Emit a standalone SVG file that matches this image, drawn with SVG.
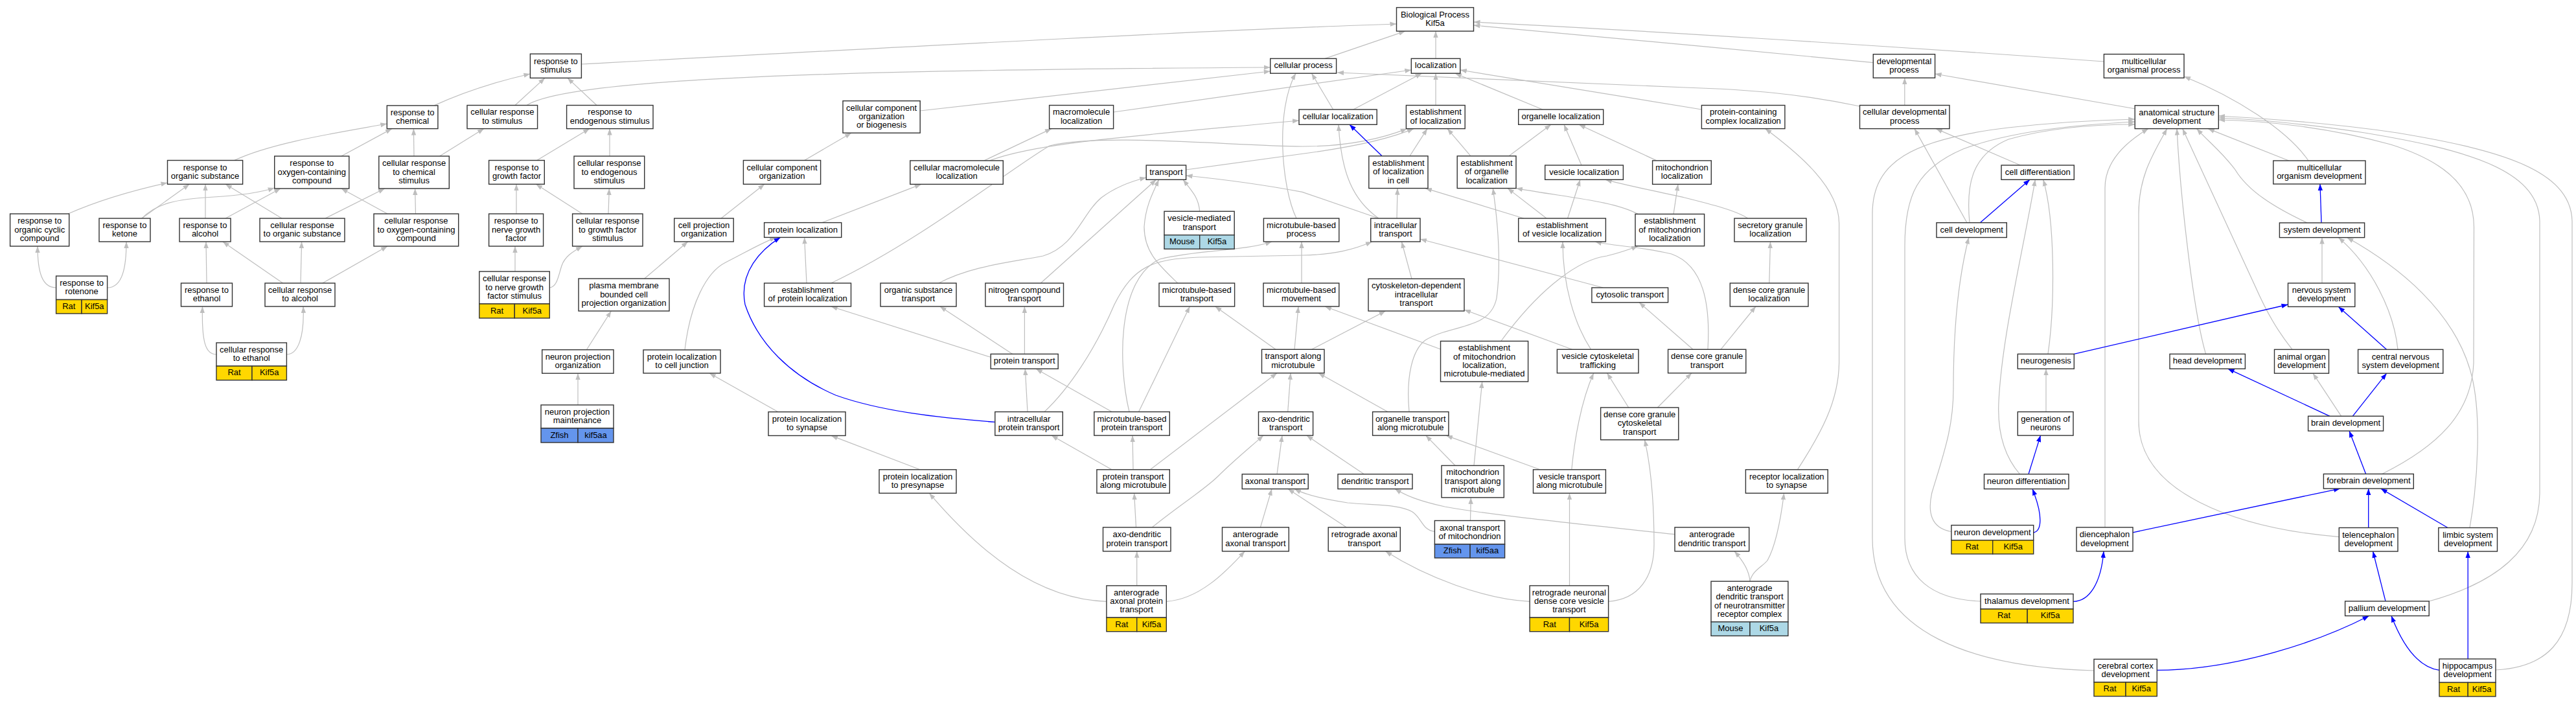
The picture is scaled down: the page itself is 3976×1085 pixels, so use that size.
<svg xmlns="http://www.w3.org/2000/svg" width="3976" height="1085" viewBox="0 0 3976 1085">
<style>
.n{fill:#fff;stroke:#333;stroke-width:1.4}
.rat{fill:#FFD700;stroke:#333;stroke-width:1.4}
.mo{fill:#ADD8E6;stroke:#333;stroke-width:1.4}
.zf{fill:#6495ED;stroke:#333;stroke-width:1.4}
.t{font-family:"Liberation Sans",Arial,sans-serif;font-size:13px;text-anchor:middle;fill:#000}
.g{fill:none;stroke:#BEBEBE;stroke-width:1.2;marker-end:url(#ag)}
.b{fill:none;stroke:#0000FF;stroke-width:1.3;marker-end:url(#ab)}
</style>
<defs>
<marker id="ag" markerUnits="userSpaceOnUse" markerWidth="11" markerHeight="9" refX="10" refY="4" orient="auto"><path d="M0,0.3 L10,4 L0,7.7 z" fill="#BEBEBE"/></marker>
<marker id="ab" markerUnits="userSpaceOnUse" markerWidth="11" markerHeight="9" refX="10" refY="4" orient="auto"><path d="M0,0.3 L10,4 L0,7.7 z" fill="#0000FF"/></marker>
</defs>
<rect x="0" y="0" width="3976" height="1085" fill="#fff"/>
<g id="edges">
<path class="g" d="M897,99 C1400,72 1900,45 2155.5,37"/>
<path class="g" d="M2045,90.4 L2169,48.1"/>
<path class="g" d="M2216,90.4 L2216,48.1"/>
<path class="g" d="M2891.3,96.6 C2700,78 2400,50 2274.5,39"/>
<path class="g" d="M3247.4,95 C2900,70 2500,45 2274.5,34"/>
<path class="g" d="M670,162.9 C720,140 770,125 818.4,114"/>
<path class="g" d="M795,162.5 L841,120.4"/>
<path class="g" d="M921,162.5 L876,120.4"/>
<path class="g" d="M813,162.5 C880,120 1300,108 1960.7,104"/>
<path class="g" d="M1420.2,171 L1960.7,110"/>
<path class="g" d="M2057.7,169 L2024.5,113.2"/>
<path class="g" d="M2001,337 C1978,290 1968,170 2000,113.2"/>
<path class="g" d="M2870.5,164 C2780,145 2700,138 2600,135 L2064,112"/>
<path class="g" d="M1718.6,173 L2178.3,108"/>
<path class="g" d="M2088.8,169 L2194.5,113.2"/>
<path class="g" d="M2216,162.5 L2216,113.2"/>
<path class="g" d="M2381,169 L2246,113.2"/>
<path class="g" d="M2626.4,169 L2253.8,108"/>
<path class="g" d="M2939.8,162.5 L2939.8,120.2"/>
<path class="g" d="M3296,168 L2986.6,114"/>
<path class="g" d="M3563,248 C3530,200 3450,150 3371,118"/>
<path class="g" d="M3532.8,248 L3408,198.6"/>
<path class="g" d="M3561,343.9 C3510,320 3470,295 3450,262 C3430,235 3410,220 3390.6,198.6"/>
<path class="g" d="M3584,437 L3584,366.6"/>
<path class="g" d="M3701,539.4 C3695,480 3660,410 3609.4,366.6"/>
<path class="g" d="M3812,814.5 C3825,740 3830,640 3815,580 C3790,480 3700,410 3622.5,366.6"/>
<path class="g" d="M3404.6,546.4 C3385,480 3365,300 3360,198.6"/>
<path class="g" d="M3538,539.4 C3515,510 3500,485 3480,440 L3368.7,198.6"/>
<path class="g" d="M3613.7,642.3 L3570,576.2"/>
<path class="g" d="M3676.8,731.5 C3760,690 3815,640 3818,560 L3818.5,350 C3818,280 3760,245 3690,223 C3600,198 3500,186 3424.3,185"/>
<path class="g" d="M3610.3,828.7 C3450,815 3301,760 3301,650 L3301,330 C3301,270 3325,235 3344.7,198.6"/>
<path class="g" d="M3749.2,928 C3850,900 3920,850 3920,760 L3920,341 C3918,260 3800,230 3650,205 C3550,190 3480,184 3424.3,182"/>
<path class="g" d="M3852,1034 C3930,1030 3970,990 3970,900 L3970,341 C3968,260 3850,230 3700,205 C3600,190 3480,182 3424.3,179"/>
<path class="g" d="M3232,1035 C3050,1030 2890,980 2890,830 L2890,330 C2890,250 2950,215 3100,197 C3180,188 3250,185 3295.2,184"/>
<path class="g" d="M3057,928 C2980,925 2940,890 2940,830 L2940,380 C2940,300 2960,260 3030,230 C3110,200 3220,192 3295.2,188"/>
<path class="g" d="M3040,343.7 C3035,290 3040,240 3100,215 C3170,195 3250,192 3295.2,192"/>
<path class="g" d="M3249,813.9 L3249,290 C3249,250 3280,220 3316,198.6"/>
<path class="g" d="M3036,343.7 L2955,198.6"/>
<path class="g" d="M3118.4,255 L2988,198.6"/>
<path class="g" d="M3161,546.4 C3172,470 3172,340 3153.7,277.3"/>
<path class="g" d="M3117.6,731.8 C3090,700 3083,660 3085,620 C3090,520 3120,400 3141.3,277.3"/>
<path class="g" d="M3011.9,820.5 C2980,815 2975,790 2982,760 C3000,700 3015,660 3015,600 C3015,500 3025,420 3038.8,366.5"/>
<path class="g" d="M3158,635.6 L3158,569.2"/>
<path class="g" d="M678.6,241 L747,198.6"/>
<path class="g" d="M639,241 L638.4,198.6"/>
<path class="g" d="M526.8,241 L605,198.6"/>
<path class="g" d="M361.6,247.5 C420,220 520,205 597.3,191"/>
<path class="g" d="M105,330 C150,310 200,295 258.5,282"/>
<path class="g" d="M218.8,337 L292.4,284.3"/>
<path class="g" d="M219,337 C240,315 270,307 330,304 C380,301 405,296 423.7,290"/>
<path class="g" d="M317,337 L317,284.3"/>
<path class="g" d="M348,337 L433,291"/>
<path class="g" d="M435,337 L348,284.3"/>
<path class="g" d="M502,337 L593.8,291"/>
<path class="g" d="M598,330 L526.8,291"/>
<path class="g" d="M641.5,330 L640.6,291"/>
<path class="g" d="M86.6,444 C65,444 58,420 58,380"/>
<path class="g" d="M165.6,444 C190,444 195,410 195,373"/>
<path class="g" d="M319,437 L318,373"/>
<path class="g" d="M436.6,437 L343.8,373"/>
<path class="g" d="M464,437 L465.6,373"/>
<path class="g" d="M497.8,437 L598,380"/>
<path class="g" d="M334,547 C318,547 311,530 312.5,473"/>
<path class="g" d="M442.4,547 C460,547 470,520 468,473"/>
<path class="g" d="M795,419 L795,380"/>
<path class="g" d="M848.3,444 C860,443 862,425 867,410 C872,395 885,388 898.8,380"/>
<path class="g" d="M797,330 L797,284.3"/>
<path class="g" d="M898.8,330 L827.3,284.3"/>
<path class="g" d="M939,330 L940.3,291"/>
<path class="g" d="M828.7,247.5 L910,198.6"/>
<path class="g" d="M941,241 L941,198.6"/>
<path class="g" d="M1113,337 L1180,284.3"/>
<path class="g" d="M1241.6,247.5 L1314,205.2"/>
<path class="g" d="M994.7,430 L1061.7,373"/>
<path class="g" d="M905.4,539.8 L943.4,480"/>
<path class="g" d="M892,625 L892,576.2"/>
<path class="g" d="M1269,343.6 L1421.8,284.4"/>
<path class="g" d="M1245,437 L1241.6,366.4"/>
<path class="g" d="M1057,540 C1065,470 1090,420 1120,405 C1150,390 1175,375 1198,366.4"/>
<path class="g" d="M1201,635.7 L1095,576"/>
<path class="g" d="M1420,724.8 L1283,672.4"/>
<path class="g" d="M1282.7,437 C1420,372 1560,260 1620,225 C1700,205 1900,225 2010,226 C2080,226 2130,215 2171.7,198.6"/>
<path class="g" d="M1830.6,262 L2020,236 C2100,225 2150,212 2182,198.6"/>
<path class="g" d="M1519,247.9 L1623,198.6"/>
<path class="g" d="M1527.5,247.9 C1600,220 1750,210 2005,186"/>
<path class="g" d="M2176,240.8 L2203,198.6"/>
<path class="g" d="M2270,240.8 L2234,198.6"/>
<path class="g" d="M2329,240.8 L2394,192.3"/>
<path class="g" d="M2441,255 L2414,192.3"/>
<path class="g" d="M2557,247.9 L2437,192.3"/>
<path class="g" d="M2128,337 C2090,310 2070,270 2066,192.3"/>
<path class="g" d="M2156,337 L2157,290.6"/>
<path class="g" d="M2352,337 L2200,290.6"/>
<path class="g" d="M2387,337 L2327,290.6"/>
<path class="g" d="M2419.6,337 L2439,277.3"/>
<path class="g" d="M2528,330.4 C2490,310 2420,305 2340,290.6"/>
<path class="g" d="M2583,330.4 L2590,284.4"/>
<path class="g" d="M2697.7,337 C2680,325 2640,315 2600,305 C2560,296 2510,286 2478,277.3"/>
<path class="g" d="M2730.8,437 L2732.5,373"/>
<path class="g" d="M2128,337 L2010,296.4 C1950,285 1880,276 1830.6,271"/>
<path class="g" d="M1612,635.6 C1650,600 1690,540 1720,470 C1750,410 1780,400 1850,397 L2010,394 C2060,393 2090,385 2117.8,373"/>
<path class="g" d="M1743,635.6 C1725,560 1725,430 1790,400 C1850,385 1920,388 1963,373"/>
<path class="g" d="M2179,430.3 L2163.4,373"/>
<path class="g" d="M2474.4,444 L2192,369"/>
<path class="g" d="M2223.5,539 L2045,473"/>
<path class="g" d="M2024.5,539.3 L2138.5,480"/>
<path class="g" d="M2426.6,539.3 L2260,478"/>
<path class="g" d="M2175,635.6 C2170,580 2180,540 2200,525 C2240,500 2300,510 2310,460 C2318,400 2310,330 2304.3,290.6"/>
<path class="g" d="M2455.6,539.3 C2430,500 2412,440 2412,373"/>
<path class="g" d="M2316.8,526.5 C2380,440 2440,400 2480,395 C2500,390 2515,385 2528,379.7"/>
<path class="g" d="M2636,539.3 C2640,470 2630,410 2580,392 C2530,380 2490,380 2462,373"/>
<path class="g" d="M2613,539.3 L2530,466.8"/>
<path class="g" d="M2656,539.3 L2710,473"/>
<path class="g" d="M2513.7,629 L2480.5,575.8"/>
<path class="g" d="M2558.4,629 L2611,575.8"/>
<path class="g" d="M2425.8,724.8 C2430,680 2440,620 2459.8,575.8"/>
<path class="g" d="M2275,718.5 L2287.7,589"/>
<path class="g" d="M2482.6,928.3 C2530,925 2553,890 2553,840 C2553,770 2548,720 2538.5,678.8"/>
<path class="g" d="M2422.5,903.9 L2422.5,761.2"/>
<path class="g" d="M2361.1,928.3 C2290,925 2200,890 2138.5,850.8"/>
<path class="g" d="M2246,718.5 L2200.7,672.1"/>
<path class="g" d="M2377,724.8 L2232,672.1"/>
<path class="g" d="M2141.8,635.6 L2035,575.8"/>
<path class="g" d="M2269.5,803.5 L2270.3,767.9"/>
<path class="g" d="M2214.4,820.5 C2195,818 2195,800 2180,790 C2160,778 2120,780 2080,776 C2040,770 2012,762 1998,754.6"/>
<path class="g" d="M2078.4,813.9 L1988,754.6"/>
<path class="g" d="M2105.3,731.8 L2016.7,672.1"/>
<path class="g" d="M2585,824.7 C2450,810 2300,795 2230,782 C2190,773 2170,765 2153,754.6"/>
<path class="g" d="M2701,897.2 C2700,880 2690,865 2677,850.8"/>
<path class="g" d="M2701,897.2 C2705,880 2720,875 2728,865 C2742,840 2750,790 2753.6,761.2"/>
<path class="g" d="M2774.4,724.8 C2810,670 2838,620 2838.6,560 L2838.6,344 C2838,290 2780,240 2724.6,198.6"/>
<path class="g" d="M1562.8,546.4 L1450.8,473"/>
<path class="g" d="M1581.4,546.4 L1581.4,473"/>
<path class="g" d="M1529.2,551.3 L1282.7,473"/>
<path class="g" d="M1586,635.6 L1582.3,569.2"/>
<path class="g" d="M1716,635.6 L1599,569.2"/>
<path class="g" d="M1757.6,635.6 L1836.4,473"/>
<path class="g" d="M1817.7,437 C1790,410 1766,390 1766,350 C1768,320 1778,300 1788.7,277.3"/>
<path class="g" d="M1969,539.3 L1875.7,473"/>
<path class="g" d="M1998,539.3 L2004,473"/>
<path class="g" d="M2009,437 L2009,373"/>
<path class="g" d="M1851.7,326.2 C1850,305 1840,295 1826,277.3"/>
<path class="g" d="M1448.8,437 C1500,410 1560,405 1610,395 C1660,380 1670,330 1700,305 C1720,290 1745,280 1769.2,274"/>
<path class="g" d="M1606.3,437 L1784.5,277.3"/>
<path class="g" d="M1716,724.8 L1622.9,672.1"/>
<path class="g" d="M1749,724.8 L1748,672.1"/>
<path class="g" d="M1775.4,724.8 L1971,575.8"/>
<path class="g" d="M1987.7,635.6 L1992,575.8"/>
<path class="g" d="M1971,731.8 L1979,672.1"/>
<path class="g" d="M1753.5,813.9 L1750.6,761.2"/>
<path class="g" d="M1778.3,813.9 C1820,780 1860,755 1880,735 C1905,710 1930,690 1950,672.1"/>
<path class="g" d="M1945.4,813.9 L1963,754.6"/>
<path class="g" d="M1754.7,903.9 L1754.7,850.8"/>
<path class="g" d="M1800.3,928.3 C1850,925 1890,885 1921.3,850.8"/>
<path class="g" d="M1707.9,928.3 C1600,925 1510,850 1434.3,761.2"/>
<path class="b" d="M3583,343.9 L3581,284"/>
<path class="b" d="M3683.7,539.4 L3609.4,473.4"/>
<path class="b" d="M3201.3,546.4 L3531.5,470"/>
<path class="b" d="M3596,642.3 L3438.7,569.2"/>
<path class="b" d="M3631.3,642.3 L3683.7,576.2"/>
<path class="b" d="M3651.6,731.5 L3626,665.1"/>
<path class="b" d="M3778,814.5 L3674.7,754.1"/>
<path class="b" d="M3655.7,814.5 L3655.7,754.1"/>
<path class="b" d="M3292,821.8 L3612,754.1"/>
<path class="b" d="M3682,927.9 L3662.6,851"/>
<path class="b" d="M3765,1034.4 C3735,1030 3710,1000 3691,950.5"/>
<path class="b" d="M3809.2,1017 L3809.2,851"/>
<path class="b" d="M3329.3,1034.4 C3450,1034 3580,990 3656.5,950.5"/>
<path class="b" d="M3056.3,343.7 L3133,277.3"/>
<path class="b" d="M3138.7,822 C3150,820 3155,800 3137,754.6"/>
<path class="b" d="M3131,731.8 L3149.5,672.1"/>
<path class="b" d="M3200,928.35 C3225,928 3243,900 3247,850.8"/>
<path class="b" d="M1535.8,651.4 C1450,645 1360,635 1290,610 C1220,580 1170,530 1150,470 C1140,420 1175,385 1204.5,366.4"/>
<path class="b" d="M2133,240.8 L2083,192.3"/>
</g>
<g id="n_bp"><rect class="n" x="2155.5" y="11.6" width="119" height="36.5"/><text class="t" x="2215" y="26.7">Biological Process</text><text class="t" x="2215" y="40">Kif5a</text></g>
<g id="n_resp_stim"><rect class="n" x="818.4" y="83.2" width="79" height="37.2"/><text class="t" x="857.9" y="98.7">response to</text><text class="t" x="857.9" y="112">stimulus</text></g>
<g id="n_cell_proc"><rect class="n" x="1960.7" y="90.4" width="101.9" height="22.8"/><text class="t" x="2011.7" y="105.3">cellular process</text></g>
<g id="n_loc"><rect class="n" x="2178.3" y="90.4" width="75.5" height="22.8"/><text class="t" x="2216" y="105.3">localization</text></g>
<g id="n_dev_proc"><rect class="n" x="2891.3" y="83.7" width="95.3" height="36.5"/><text class="t" x="2939" y="98.8">developmental</text><text class="t" x="2939" y="112.1">process</text></g>
<g id="n_mcop"><rect class="n" x="3247.4" y="83.6" width="123.6" height="36.7"/><text class="t" x="3309.2" y="98.8">multicellular</text><text class="t" x="3309.2" y="112.1">organismal process</text></g>
<g id="n_resp_chem"><rect class="n" x="597.3" y="162.9" width="78.6" height="35.7"/><text class="t" x="636.6" y="177.6">response to</text><text class="t" x="636.6" y="190.9">chemical</text></g>
<g id="n_cr_stim"><rect class="n" x="721" y="162.5" width="108.6" height="36.1"/><text class="t" x="775.3" y="177.4">cellular response</text><text class="t" x="775.3" y="190.7">to stimulus</text></g>
<g id="n_r_endo"><rect class="n" x="874.6" y="162.5" width="133.4" height="36.1"/><text class="t" x="941.3" y="177.4">response to</text><text class="t" x="941.3" y="190.7">endogenous stimulus</text></g>
<g id="n_ccob"><rect class="n" x="1301" y="155.7" width="119.2" height="49.5"/><text class="t" x="1360.6" y="170.7">cellular component</text><text class="t" x="1360.6" y="184">organization</text><text class="t" x="1360.6" y="197.3">or biogenesis</text></g>
<g id="n_macro_loc"><rect class="n" x="1619.6" y="162.5" width="99" height="36.1"/><text class="t" x="1669.1" y="177.4">macromolecule</text><text class="t" x="1669.1" y="190.7">localization</text></g>
<g id="n_cell_loc"><rect class="n" x="2005" y="169" width="120.2" height="23.3"/><text class="t" x="2065.1" y="184.2">cellular localization</text></g>
<g id="n_est_loc"><rect class="n" x="2170.4" y="162.5" width="90.8" height="36.1"/><text class="t" x="2215.8" y="177.4">establishment</text><text class="t" x="2215.8" y="190.7">of localization</text></g>
<g id="n_org_loc"><rect class="n" x="2343.7" y="169" width="131" height="23.3"/><text class="t" x="2409.2" y="184.2">organelle localization</text></g>
<g id="n_pccl"><rect class="n" x="2626.4" y="162.5" width="128.5" height="36.1"/><text class="t" x="2690.7" y="177.4">protein-containing</text><text class="t" x="2690.7" y="190.7">complex localization</text></g>
<g id="n_cdp"><rect class="n" x="2870.5" y="162.5" width="138.5" height="36.1"/><text class="t" x="2939.8" y="177.4">cellular developmental</text><text class="t" x="2939.8" y="190.7">process</text></g>
<g id="n_asd"><rect class="n" x="3295.2" y="162.8" width="129.1" height="35.8"/><text class="t" x="3359.8" y="177.6">anatomical structure</text><text class="t" x="3359.8" y="190.9">development</text></g>
<g id="n_r_org"><rect class="n" x="258.5" y="247.5" width="116.1" height="36.8"/><text class="t" x="316.6" y="262.8">response to</text><text class="t" x="316.6" y="276.1">organic substance</text></g>
<g id="n_r_oxy"><rect class="n" x="423.7" y="241" width="115.1" height="50"/><text class="t" x="481.3" y="256.2">response to</text><text class="t" x="481.3" y="269.5">oxygen-containing</text><text class="t" x="481.3" y="282.8">compound</text></g>
<g id="n_cr_chem"><rect class="n" x="584.8" y="241" width="108.5" height="50"/><text class="t" x="639.1" y="256.2">cellular response</text><text class="t" x="639.1" y="269.5">to chemical</text><text class="t" x="639.1" y="282.8">stimulus</text></g>
<g id="n_r_gf"><rect class="n" x="754.6" y="247.5" width="85.7" height="36.8"/><text class="t" x="797.5" y="262.8">response to</text><text class="t" x="797.5" y="276.1">growth factor</text></g>
<g id="n_cr_endo"><rect class="n" x="886" y="241" width="108.7" height="50"/><text class="t" x="940.4" y="256.2">cellular response</text><text class="t" x="940.4" y="269.5">to endogenous</text><text class="t" x="940.4" y="282.8">stimulus</text></g>
<g id="n_cco"><rect class="n" x="1147.4" y="247.5" width="119.2" height="36.8"/><text class="t" x="1207" y="262.8">cellular component</text><text class="t" x="1207" y="276.1">organization</text></g>
<g id="n_cml"><rect class="n" x="1404.8" y="247.9" width="143.5" height="36.5"/><text class="t" x="1476.6" y="263">cellular macromolecule</text><text class="t" x="1476.6" y="276.3">localization</text></g>
<g id="n_transport"><rect class="n" x="1769.2" y="255" width="61.4" height="22.3"/><text class="t" x="1799.9" y="269.7">transport</text></g>
<g id="n_elc"><rect class="n" x="2112.8" y="240.8" width="91.2" height="49.8"/><text class="t" x="2158.4" y="255.9">establishment</text><text class="t" x="2158.4" y="269.2">of localization</text><text class="t" x="2158.4" y="282.5">in cell</text></g>
<g id="n_eol"><rect class="n" x="2249.2" y="240.8" width="90.8" height="49.8"/><text class="t" x="2294.6" y="255.9">establishment</text><text class="t" x="2294.6" y="269.2">of organelle</text><text class="t" x="2294.6" y="282.5">localization</text></g>
<g id="n_ves_loc"><rect class="n" x="2384.7" y="255" width="120.7" height="22.3"/><text class="t" x="2445.1" y="269.7">vesicle localization</text></g>
<g id="n_mito_loc"><rect class="n" x="2550.6" y="247.9" width="90.7" height="36.5"/><text class="t" x="2596" y="263">mitochondrion</text><text class="t" x="2596" y="276.3">localization</text></g>
<g id="n_cell_diff"><rect class="n" x="3089" y="255" width="112.3" height="22.3"/><text class="t" x="3145.2" y="269.7">cell differentiation</text></g>
<g id="n_mod"><rect class="n" x="3508.8" y="248" width="142.2" height="36"/><text class="t" x="3579.9" y="262.9">multicellular</text><text class="t" x="3579.9" y="276.2">organism development</text></g>
<g id="n_r_occ"><rect class="n" x="15.6" y="330" width="91.1" height="50"/><text class="t" x="61.2" y="345.2">response to</text><text class="t" x="61.2" y="358.5">organic cyclic</text><text class="t" x="61.2" y="371.8">compound</text></g>
<g id="n_r_ket"><rect class="n" x="153" y="337" width="79" height="36"/><text class="t" x="192.5" y="351.9">response to</text><text class="t" x="192.5" y="365.2">ketone</text></g>
<g id="n_r_alc"><rect class="n" x="277" y="337" width="79" height="36"/><text class="t" x="316.5" y="351.9">response to</text><text class="t" x="316.5" y="365.2">alcohol</text></g>
<g id="n_cr_org"><rect class="n" x="401" y="337" width="131" height="36"/><text class="t" x="466.5" y="351.9">cellular response</text><text class="t" x="466.5" y="365.2">to organic substance</text></g>
<g id="n_cr_oxy"><rect class="n" x="577" y="330" width="130.7" height="50"/><text class="t" x="642.4" y="345.2">cellular response</text><text class="t" x="642.4" y="358.5">to oxygen-containing</text><text class="t" x="642.4" y="371.8">compound</text></g>
<g id="n_r_ngf"><rect class="n" x="754.6" y="330" width="84" height="50"/><text class="t" x="796.6" y="345.2">response to</text><text class="t" x="796.6" y="358.5">nerve growth</text><text class="t" x="796.6" y="371.8">factor</text></g>
<g id="n_cr_gf"><rect class="n" x="883.6" y="330" width="108.4" height="50"/><text class="t" x="937.8" y="345.2">cellular response</text><text class="t" x="937.8" y="358.5">to growth factor</text><text class="t" x="937.8" y="371.8">stimulus</text></g>
<g id="n_cpo"><rect class="n" x="1040.7" y="337" width="91.5" height="36"/><text class="t" x="1086.5" y="351.9">cell projection</text><text class="t" x="1086.5" y="365.2">organization</text></g>
<g id="n_prot_loc"><rect class="n" x="1179.6" y="343.6" width="119.1" height="22.8"/><text class="t" x="1239.2" y="358.5">protein localization</text></g>
<g id="n_vmt"><rect class="n" x="1797" y="326.2" width="108.2" height="36.5"/><rect class="mo" x="1797" y="362.7" width="54.7" height="21.6"/><rect class="mo" x="1851.7" y="362.7" width="53.5" height="21.6"/><text class="t" x="1851.1" y="341.3">vesicle-mediated</text><text class="t" x="1851.1" y="354.6">transport</text><text class="t" x="1824.4" y="377">Mouse</text><text class="t" x="1878.5" y="377">Kif5a</text></g>
<g id="n_mbp"><rect class="n" x="1950.4" y="337" width="116.4" height="36"/><text class="t" x="2008.6" y="351.9">microtubule-based</text><text class="t" x="2008.6" y="365.2">process</text></g>
<g id="n_it"><rect class="n" x="2115.7" y="337" width="76.3" height="36"/><text class="t" x="2153.9" y="351.9">intracellular</text><text class="t" x="2153.9" y="365.2">transport</text></g>
<g id="n_evl"><rect class="n" x="2343.7" y="337" width="134.7" height="36"/><text class="t" x="2411.1" y="351.9">establishment</text><text class="t" x="2411.1" y="365.2">of vesicle localization</text></g>
<g id="n_eml"><rect class="n" x="2524" y="330.4" width="106.6" height="49.3"/><text class="t" x="2577.3" y="345.3">establishment</text><text class="t" x="2577.3" y="358.6">of mitochondrion</text><text class="t" x="2577.3" y="371.9">localization</text></g>
<g id="n_sgl"><rect class="n" x="2677" y="337" width="111" height="36"/><text class="t" x="2732.5" y="351.9">secretory granule</text><text class="t" x="2732.5" y="365.2">localization</text></g>
<g id="n_cell_dev"><rect class="n" x="2989" y="343.7" width="108.3" height="22.8"/><text class="t" x="3043.2" y="358.6">cell development</text></g>
<g id="n_sys_dev"><rect class="n" x="3518.4" y="343.9" width="131.2" height="22.7"/><text class="t" x="3584" y="358.8">system development</text></g>
<g id="n_cr_ngf"><rect class="n" x="739.8" y="419" width="108.5" height="50"/><rect class="rat" x="739.8" y="469" width="54.5" height="22"/><rect class="rat" x="794.3" y="469" width="54" height="22"/><text class="t" x="794.1" y="434.2">cellular response</text><text class="t" x="794.1" y="447.5">to nerve growth</text><text class="t" x="794.1" y="460.8">factor stimulus</text><text class="t" x="767.1" y="483.5">Rat</text><text class="t" x="821.3" y="483.5">Kif5a</text></g>
<g id="n_r_rot"><rect class="n" x="86.6" y="426" width="79" height="36.5"/><rect class="rat" x="86.6" y="462.5" width="39.4" height="21.5"/><rect class="rat" x="126" y="462.5" width="39.6" height="21.5"/><text class="t" x="126.1" y="441.1">response to</text><text class="t" x="126.1" y="454.4">rotenone</text><text class="t" x="106.3" y="476.8">Rat</text><text class="t" x="145.8" y="476.8">Kif5a</text></g>
<g id="n_pmb"><rect class="n" x="893" y="430" width="140" height="50"/><text class="t" x="963" y="445.2">plasma membrane</text><text class="t" x="963" y="458.5">bounded cell</text><text class="t" x="963" y="471.8">projection organization</text></g>
<g id="n_epl"><rect class="n" x="1179.6" y="437" width="133.9" height="36"/><text class="t" x="1246.6" y="451.9">establishment</text><text class="t" x="1246.6" y="465.2">of protein localization</text></g>
<g id="n_ost"><rect class="n" x="1359" y="437" width="117" height="36"/><text class="t" x="1417.5" y="451.9">organic substance</text><text class="t" x="1417.5" y="465.2">transport</text></g>
<g id="n_nct"><rect class="n" x="1520.9" y="437" width="120.6" height="36"/><text class="t" x="1581.2" y="451.9">nitrogen compound</text><text class="t" x="1581.2" y="465.2">transport</text></g>
<g id="n_mbt"><rect class="n" x="1789" y="437" width="116.6" height="36"/><text class="t" x="1847.3" y="451.9">microtubule-based</text><text class="t" x="1847.3" y="465.2">transport</text></g>
<g id="n_mbm"><rect class="n" x="1950" y="437" width="116.8" height="36"/><text class="t" x="2008.4" y="451.9">microtubule-based</text><text class="t" x="2008.4" y="465.2">movement</text></g>
<g id="n_cdit"><rect class="n" x="2112" y="430.3" width="148" height="49.7"/><text class="t" x="2186" y="445.4">cytoskeleton-dependent</text><text class="t" x="2186" y="458.7">intracellular</text><text class="t" x="2186" y="472">transport</text></g>
<g id="n_cyt"><rect class="n" x="2456.9" y="444" width="117.7" height="22.8"/><text class="t" x="2515.8" y="458.9">cytosolic transport</text></g>
<g id="n_dcgl"><rect class="n" x="2670.3" y="437" width="120.7" height="36"/><text class="t" x="2730.7" y="451.9">dense core granule</text><text class="t" x="2730.7" y="465.2">localization</text></g>
<g id="n_nsd"><rect class="n" x="3531.5" y="437" width="103.3" height="36.4"/><text class="t" x="3583.2" y="452.1">nervous system</text><text class="t" x="3583.2" y="465.4">development</text></g>
<g id="n_r_eth"><rect class="n" x="279.5" y="437" width="79" height="36"/><text class="t" x="319" y="451.9">response to</text><text class="t" x="319" y="465.2">ethanol</text></g>
<g id="n_cr_alc"><rect class="n" x="409" y="437" width="108" height="36"/><text class="t" x="463" y="451.9">cellular response</text><text class="t" x="463" y="465.2">to alcohol</text></g>
<g id="n_emlm"><rect class="n" x="2223.5" y="526.5" width="135.1" height="62.5"/><text class="t" x="2291.1" y="541.3">establishment</text><text class="t" x="2291.1" y="554.6">of mitochondrion</text><text class="t" x="2291.1" y="567.9">localization,</text><text class="t" x="2291.1" y="581.2">microtubule-mediated</text></g>
<g id="n_tam"><rect class="n" x="1947.5" y="539.3" width="96.5" height="36.5"/><text class="t" x="1995.8" y="554.4">transport along</text><text class="t" x="1995.8" y="567.7">microtubule</text></g>
<g id="n_ptr"><rect class="n" x="1529.2" y="546.4" width="104" height="22.8"/><text class="t" x="1581.2" y="561.3">protein transport</text></g>
<g id="n_vct"><rect class="n" x="2403.4" y="539.3" width="125.6" height="36.5"/><text class="t" x="2466.2" y="554.4">vesicle cytoskeletal</text><text class="t" x="2466.2" y="567.7">trafficking</text></g>
<g id="n_dcgt"><rect class="n" x="2574.6" y="539.3" width="120.2" height="36.5"/><text class="t" x="2634.7" y="554.4">dense core granule</text><text class="t" x="2634.7" y="567.7">transport</text></g>
<g id="n_neurog"><rect class="n" x="3114.3" y="546.4" width="87" height="22.8"/><text class="t" x="3157.8" y="561.3">neurogenesis</text></g>
<g id="n_head_dev"><rect class="n" x="3349" y="546.4" width="116.4" height="22.8"/><text class="t" x="3407.2" y="561.3">head development</text></g>
<g id="n_aod"><rect class="n" x="3510.5" y="539.4" width="84" height="36.8"/><text class="t" x="3552.5" y="554.7">animal organ</text><text class="t" x="3552.5" y="568">development</text></g>
<g id="n_cnsd"><rect class="n" x="3639.6" y="539.4" width="131.2" height="36.8"/><text class="t" x="3705.2" y="554.7">central nervous</text><text class="t" x="3705.2" y="568">system development</text></g>
<g id="n_cr_eth"><rect class="n" x="334" y="529" width="108.4" height="36"/><rect class="rat" x="334" y="565" width="55" height="21.7"/><rect class="rat" x="389" y="565" width="53.4" height="21.7"/><text class="t" x="388.2" y="543.9">cellular response</text><text class="t" x="388.2" y="557.2">to ethanol</text><text class="t" x="361.5" y="579.4">Rat</text><text class="t" x="415.7" y="579.4">Kif5a</text></g>
<g id="n_npo"><rect class="n" x="836.7" y="539.8" width="110.3" height="36.4"/><text class="t" x="891.9" y="554.9">neuron projection</text><text class="t" x="891.9" y="568.2">organization</text></g>
<g id="n_plcj"><rect class="n" x="993" y="540" width="119" height="36"/><text class="t" x="1052.5" y="554.9">protein localization</text><text class="t" x="1052.5" y="568.2">to cell junction</text></g>
<g id="n_ipt"><rect class="n" x="1535.8" y="635.6" width="104.5" height="36.5"/><text class="t" x="1588.1" y="650.7">intracellular</text><text class="t" x="1588.1" y="664">protein transport</text></g>
<g id="n_mbpt"><rect class="n" x="1688.8" y="635.6" width="116.5" height="36.5"/><text class="t" x="1747.1" y="650.7">microtubule-based</text><text class="t" x="1747.1" y="664">protein transport</text></g>
<g id="n_adt"><rect class="n" x="1942.5" y="635.6" width="84.1" height="36.5"/><text class="t" x="1984.6" y="650.7">axo-dendritic</text><text class="t" x="1984.6" y="664">transport</text></g>
<g id="n_otam"><rect class="n" x="2118.6" y="635.6" width="117.3" height="36.5"/><text class="t" x="2177.3" y="650.7">organelle transport</text><text class="t" x="2177.3" y="664">along microtubule</text></g>
<g id="n_dcgct"><rect class="n" x="2470.6" y="629" width="120.2" height="49.8"/><text class="t" x="2530.7" y="644.1">dense core granule</text><text class="t" x="2530.7" y="657.4">cytoskeletal</text><text class="t" x="2530.7" y="670.7">transport</text></g>
<g id="n_gon"><rect class="n" x="3114.3" y="635.6" width="85.7" height="36.5"/><text class="t" x="3157.2" y="650.7">generation of</text><text class="t" x="3157.2" y="664">neurons</text></g>
<g id="n_brain_dev"><rect class="n" x="3562.6" y="642.3" width="116" height="22.8"/><text class="t" x="3620.6" y="657.2">brain development</text></g>
<g id="n_npm"><rect class="n" x="835" y="625" width="112" height="36"/><rect class="zf" x="835" y="661" width="57" height="22"/><rect class="zf" x="892" y="661" width="55" height="22"/><text class="t" x="891" y="639.9">neuron projection</text><text class="t" x="891" y="653.2">maintenance</text><text class="t" x="863.5" y="675.5">Zfish</text><text class="t" x="919.5" y="675.5">kif5aa</text></g>
<g id="n_pls"><rect class="n" x="1186" y="635.7" width="119" height="36.7"/><text class="t" x="1245.5" y="650.9">protein localization</text><text class="t" x="1245.5" y="664.2">to synapse</text></g>
<g id="n_plp"><rect class="n" x="1357" y="724.8" width="119" height="36.4"/><text class="t" x="1416.5" y="739.9">protein localization</text><text class="t" x="1416.5" y="753.2">to presynapse</text></g>
<g id="n_ptam"><rect class="n" x="1692.9" y="724.8" width="112.4" height="36.4"/><text class="t" x="1749.1" y="739.9">protein transport</text><text class="t" x="1749.1" y="753.2">along microtubule</text></g>
<g id="n_axt"><rect class="n" x="1917.2" y="731.8" width="102" height="22.8"/><text class="t" x="1968.2" y="746.7">axonal transport</text></g>
<g id="n_dt"><rect class="n" x="2065" y="731.8" width="115" height="22.8"/><text class="t" x="2122.5" y="746.7">dendritic transport</text></g>
<g id="n_mtam"><rect class="n" x="2225" y="718.5" width="96.3" height="49.4"/><text class="t" x="2273.2" y="733.4">mitochondrion</text><text class="t" x="2273.2" y="746.7">transport along</text><text class="t" x="2273.2" y="760">microtubule</text></g>
<g id="n_vtam"><rect class="n" x="2366.5" y="724.8" width="111.9" height="36.4"/><text class="t" x="2422.5" y="739.9">vesicle transport</text><text class="t" x="2422.5" y="753.2">along microtubule</text></g>
<g id="n_rls"><rect class="n" x="2694.4" y="724.8" width="126.8" height="36.4"/><text class="t" x="2757.8" y="739.9">receptor localization</text><text class="t" x="2757.8" y="753.2">to synapse</text></g>
<g id="n_nd"><rect class="n" x="3062.5" y="731.8" width="130.5" height="22.8"/><text class="t" x="3127.8" y="746.7">neuron differentiation</text></g>
<g id="n_fbd"><rect class="n" x="3586.4" y="731.5" width="138.9" height="22.6"/><text class="t" x="3655.9" y="746.3">forebrain development</text></g>
<g id="n_adpt"><rect class="n" x="1702.5" y="813.9" width="104.5" height="36.9"/><text class="t" x="1754.8" y="829.2">axo-dendritic</text><text class="t" x="1754.8" y="842.5">protein transport</text></g>
<g id="n_aat"><rect class="n" x="1886.5" y="813.9" width="102.8" height="36.9"/><text class="t" x="1937.9" y="829.2">anterograde</text><text class="t" x="1937.9" y="842.5">axonal transport</text></g>
<g id="n_rat"><rect class="n" x="2050.2" y="813.9" width="111.1" height="36.9"/><text class="t" x="2105.8" y="829.2">retrograde axonal</text><text class="t" x="2105.8" y="842.5">transport</text></g>
<g id="n_atm"><rect class="n" x="2214.4" y="803.5" width="108.2" height="36.5"/><rect class="zf" x="2214.4" y="840" width="54.7" height="21.1"/><rect class="zf" x="2269.1" y="840" width="53.5" height="21.1"/><text class="t" x="2268.5" y="818.6">axonal transport</text><text class="t" x="2268.5" y="831.9">of mitochondrion</text><text class="t" x="2241.8" y="854.1">Zfish</text><text class="t" x="2295.9" y="854.1">kif5aa</text></g>
<g id="n_adt2"><rect class="n" x="2585" y="813.9" width="114.7" height="36.9"/><text class="t" x="2642.4" y="829.2">anterograde</text><text class="t" x="2642.4" y="842.5">dendritic transport</text></g>
<g id="n_ndev"><rect class="n" x="3011.9" y="810.6" width="126.8" height="23.2"/><rect class="rat" x="3011.9" y="833.8" width="63.8" height="21.2"/><rect class="rat" x="3075.7" y="833.8" width="63" height="21.2"/><text class="t" x="3075.3" y="825.7">neuron development</text><text class="t" x="3043.8" y="847.9">Rat</text><text class="t" x="3107.2" y="847.9">Kif5a</text></g>
<g id="n_dien"><rect class="n" x="3205" y="813.9" width="87" height="36.9"/><text class="t" x="3248.5" y="829.2">diencephalon</text><text class="t" x="3248.5" y="842.5">development</text></g>
<g id="n_tel"><rect class="n" x="3610.3" y="814.5" width="90.7" height="36.5"/><text class="t" x="3655.7" y="829.6">telencephalon</text><text class="t" x="3655.7" y="842.9">development</text></g>
<g id="n_lim"><rect class="n" x="3763.8" y="814.5" width="90.7" height="36.5"/><text class="t" x="3809.2" y="829.6">limbic system</text><text class="t" x="3809.2" y="842.9">development</text></g>
<g id="n_aapt"><rect class="n" x="1707.9" y="903.9" width="92.4" height="49.3"/><rect class="rat" x="1707.9" y="953.2" width="46.8" height="21.5"/><rect class="rat" x="1754.7" y="953.2" width="45.6" height="21.5"/><text class="t" x="1754.1" y="918.8">anterograde</text><text class="t" x="1754.1" y="932.1">axonal protein</text><text class="t" x="1754.1" y="945.4">transport</text><text class="t" x="1731.3" y="967.5">Rat</text><text class="t" x="1777.5" y="967.5">Kif5a</text></g>
<g id="n_rndcv"><rect class="n" x="2361.1" y="903.9" width="121.5" height="49.3"/><rect class="rat" x="2361.1" y="953.2" width="61.4" height="21.5"/><rect class="rat" x="2422.5" y="953.2" width="60.1" height="21.5"/><text class="t" x="2421.9" y="918.8">retrograde neuronal</text><text class="t" x="2421.9" y="932.1">dense core vesicle</text><text class="t" x="2421.9" y="945.4">transport</text><text class="t" x="2391.8" y="967.5">Rat</text><text class="t" x="2452.6" y="967.5">Kif5a</text></g>
<g id="n_adtnrc"><rect class="n" x="2641" y="897.2" width="118.9" height="62.6"/><rect class="mo" x="2641" y="959.8" width="60" height="21.6"/><rect class="mo" x="2701" y="959.8" width="58.9" height="21.6"/><text class="t" x="2700.5" y="912.1">anterograde</text><text class="t" x="2700.5" y="925.4">dendritic transport</text><text class="t" x="2700.5" y="938.7">of neurotransmitter</text><text class="t" x="2700.5" y="952">receptor complex</text><text class="t" x="2671" y="974.1">Mouse</text><text class="t" x="2730.5" y="974.1">Kif5a</text></g>
<g id="n_thal"><rect class="n" x="3057" y="916.7" width="143" height="23.3"/><rect class="rat" x="3057" y="940" width="72.2" height="21.5"/><rect class="rat" x="3129.2" y="940" width="70.8" height="21.5"/><text class="t" x="3128.5" y="931.9">thalamus development</text><text class="t" x="3093.1" y="954.3">Rat</text><text class="t" x="3164.6" y="954.3">Kif5a</text></g>
<g id="n_pall"><rect class="n" x="3619.6" y="927.9" width="129.6" height="22.6"/><text class="t" x="3684.4" y="942.7">pallium development</text></g>
<g id="n_ccd"><rect class="n" x="3232" y="1017.4" width="97.3" height="35.6"/><rect class="rat" x="3232" y="1053" width="49" height="21.6"/><rect class="rat" x="3281" y="1053" width="48.3" height="21.6"/><text class="t" x="3280.7" y="1032.1">cerebral cortex</text><text class="t" x="3280.7" y="1045.4">development</text><text class="t" x="3256.5" y="1067.3">Rat</text><text class="t" x="3305.2" y="1067.3">Kif5a</text></g>
<g id="n_hip"><rect class="n" x="3765" y="1017" width="87" height="36.4"/><rect class="rat" x="3765" y="1053.4" width="44.2" height="21.5"/><rect class="rat" x="3809.2" y="1053.4" width="42.8" height="21.5"/><text class="t" x="3808.5" y="1032">hippocampus</text><text class="t" x="3808.5" y="1045.3">development</text><text class="t" x="3787.1" y="1067.7">Rat</text><text class="t" x="3830.6" y="1067.7">Kif5a</text></g>
</svg>
